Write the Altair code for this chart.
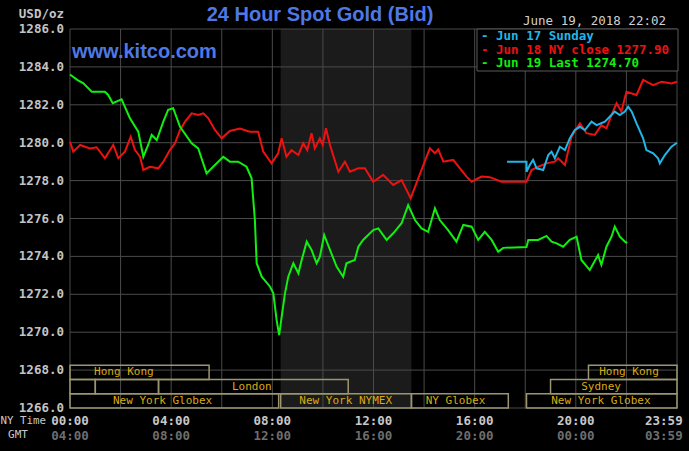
import altair as alt
import pandas as pd

# ---------------- data ----------------
green_h = [0.0, 0.3, 0.53, 0.86, 1.38, 1.51, 1.69, 2.04, 2.11, 2.37, 2.70, 2.90, 3.09, 3.23, 3.43, 3.69, 3.88, 4.08,
           4.35, 4.81, 5.07, 5.40, 5.66, 6.06, 6.32, 6.65, 6.98, 7.18, 7.31, 7.38, 7.58, 7.91, 8.04, 8.17, 8.27, 8.37,
           8.50, 8.63, 8.83, 9.03, 9.16, 9.36, 9.55, 9.75, 9.88, 10.05, 10.28, 10.54, 10.80, 10.93, 11.26, 11.40,
           11.59, 11.79, 11.99, 12.19, 12.52, 12.78, 13.11, 13.37, 13.64, 13.90, 14.16, 14.43, 14.62, 14.95, 15.28,
           15.55, 15.88, 16.14, 16.40, 16.67, 16.93, 17.13, 18.05, 18.12, 18.51, 18.84, 19.04, 19.24, 19.50, 19.76,
           20.03, 20.22, 20.55, 20.88, 21.01, 21.21, 21.41, 21.54, 21.74, 21.94, 22.03]
green_v = [1283.60, 1283.30, 1283.13, 1282.69, 1282.69, 1282.52, 1282.08, 1282.29, 1282.08, 1281.29, 1280.58, 1279.26,
           1279.88, 1280.41, 1280.14, 1281.11, 1281.73, 1281.82, 1280.84, 1279.97, 1279.70, 1278.38, 1278.73, 1279.26,
           1279.00, 1279.00, 1278.73, 1278.12, 1275.92, 1273.64, 1272.93, 1272.40, 1272.05, 1270.64, 1269.85, 1270.82,
           1272.05, 1272.93, 1273.64, 1273.11, 1273.81, 1274.78, 1274.34, 1273.64, 1273.98, 1275.13, 1274.34, 1273.46,
           1272.93, 1273.64, 1273.81, 1274.51, 1274.87, 1275.13, 1275.39, 1275.48, 1274.87, 1275.22, 1275.75, 1276.71,
           1275.92, 1275.48, 1275.30, 1276.54, 1275.92, 1275.39, 1274.78, 1275.66, 1275.57, 1274.87, 1275.30, 1274.87,
           1274.25, 1274.45, 1274.50, 1274.87, 1274.87, 1275.08, 1274.78, 1274.69, 1274.51, 1274.87, 1275.04, 1273.81,
           1273.28, 1274.07, 1273.55, 1274.51, 1275.04, 1275.57, 1275.04, 1274.78, 1274.70]

red_h = [0.0, 0.13, 0.40, 0.79, 1.05, 1.38, 1.71, 1.91, 2.17, 2.40, 2.57, 2.77, 2.90, 3.16, 3.49, 3.69, 3.95, 4.15,
         4.35, 4.55, 4.81, 5.07, 5.27, 5.47, 5.73, 6.0, 6.32, 6.72, 7.11, 7.44, 7.64, 7.97, 8.23, 8.37, 8.56, 8.76,
         9.03, 9.22, 9.38, 9.55, 9.68, 9.88, 9.99, 10.12, 10.28, 10.61, 10.87, 11.07, 11.40, 11.66, 11.99, 12.38,
         12.78, 13.11, 13.47, 13.77, 14.10, 14.23, 14.43, 14.56, 14.76, 15.15, 15.68, 15.88, 16.27, 16.60, 17.06,
         18.05, 18.25, 18.51, 18.84, 19.17, 19.30, 19.57, 19.83, 20.16, 20.42, 20.75, 21.01, 21.21, 21.41, 21.61,
         21.80, 22.0, 22.40, 22.66, 23.06, 23.39, 23.78, 24.0]
red_v = [1280.05, 1279.53, 1279.88, 1279.70, 1279.76, 1279.18, 1279.88, 1279.18, 1279.53, 1280.32, 1279.61, 1279.26,
         1278.56, 1278.73, 1278.65, 1279.00, 1279.61, 1279.97, 1280.67, 1281.11, 1281.55, 1281.46, 1281.55, 1281.29,
         1280.67, 1280.23, 1280.62, 1280.75, 1280.58, 1280.58, 1279.53, 1278.91, 1279.44, 1280.23, 1279.26, 1279.61,
         1279.35, 1279.97, 1279.61, 1280.50, 1279.70, 1280.23, 1279.88, 1280.76, 1279.88, 1278.47, 1279.00, 1278.47,
         1278.65, 1278.65, 1277.94, 1278.30, 1277.77, 1278.03, 1277.07, 1278.12, 1279.26, 1279.70, 1279.44, 1279.65,
         1279.00, 1279.09, 1278.21, 1277.94, 1278.21, 1278.18, 1277.94, 1277.94, 1278.56, 1278.73, 1278.91, 1279.00,
         1279.18, 1278.82, 1280.32, 1281.02, 1280.50, 1280.41, 1280.93, 1280.76, 1281.46, 1282.08, 1281.64, 1282.69,
         1282.52, 1283.31, 1283.04, 1283.22, 1283.13, 1283.22]

cyan_h = [17.28, 18.05, 18.05, 18.18, 18.31, 18.45, 18.71, 18.91, 19.04, 19.17, 19.37, 19.57, 19.76, 19.96, 20.16,
          20.36, 20.62, 20.82, 21.15, 21.34, 21.54, 21.74, 21.94, 22.07, 22.21, 22.40, 22.66, 22.79, 23.06, 23.25,
          23.32, 23.52, 23.78, 24.0]
cyan_v = [1279.00, 1279.00, 1278.47, 1278.82, 1279.09, 1278.65, 1278.56, 1279.35, 1279.53, 1279.18, 1279.79, 1279.61,
          1280.23, 1280.67, 1280.84, 1280.67, 1281.11, 1280.93, 1281.11, 1281.37, 1281.64, 1281.46, 1281.64, 1281.90,
          1281.64, 1281.02, 1280.23, 1279.61, 1279.44, 1279.18, 1278.91, 1279.35, 1279.79, 1280.00]

y_ticks = [1266, 1268, 1270, 1272, 1274, 1276, 1278, 1280, 1282, 1284, 1286]
x_grid = [0, 2, 4, 6, 8, 10, 12, 14, 16, 18, 20, 22, 24]
x_label_pos = [0, 4, 8, 12, 16, 20, 23.48]
ny_labels = ["00:00", "04:00", "08:00", "12:00", "16:00", "20:00", "23:59"]
gmt_labels = ["04:00", "08:00", "12:00", "16:00", "20:00", "00:00", "03:59"]

comex_start, comex_end = 8.33, 13.5

sess_start = [0.0, 20.5, 0.0, 1.0, 3.5, 19.0, 0.0, 8.33, 13.5, 18.05]
sess_end = [5.5, 24.0, 1.0, 3.5, 11.0, 24.0, 8.25, 13.5, 17.33, 24.0]
sess_row = [1, 1, 2, 2, 2, 2, 3, 3, 3, 3]
sess_lab_text = ["Hong Kong", "Hong Kong", "London", "Sydney", "New York Globex", "New York NYMEX", "NY Globex",
                 "New York Globex"]
sess_lab_x = [2.13, 22.1, 7.19, 21.0, 3.66, 10.9, 15.24, 20.99]
sess_lab_row = [1, 1, 2, 2, 3, 3, 3, 3]

legend_text = ["- Jun 17 Sunday", "- Jun 18 NY close 1277.90", "- Jun 19 Last 1274.70"]
series_names = ["Jun 17", "Jun 18", "Jun 19"]
series_colors = ["#21b6e8", "#ee1111", "#11ee11"]

# ---------------- frames ----------------
def frame(name, hs, vs):
    return pd.DataFrame({"h": hs, "v": vs, "s": name, "i": list(range(len(hs)))})

lines_df = pd.concat([frame("Jun 18", red_h, red_v),
                      frame("Jun 17", cyan_h, cyan_v),
                      frame("Jun 19", green_h, green_v)], ignore_index=True)

row_bounds = {1: (1267.5, 1268.25), 2: (1266.75, 1267.5), 3: (1266.0, 1266.75)}
sess_df = pd.DataFrame({
    "h": sess_start, "h2": sess_end,
    "v": [row_bounds[r][0] for r in sess_row],
    "v2": [row_bounds[r][1] for r in sess_row],
})
sess_lab_df = pd.DataFrame({
    "h": sess_lab_x, "t": sess_lab_text,
    "v": [sum(row_bounds[r]) / 2 for r in sess_lab_row],
})

xs = alt.Scale(domain=[0, 24], nice=False, zero=False)
ys = alt.Scale(domain=[1266, 1286], nice=False, zero=False)
X = lambda f="h": alt.X(f"{f}:Q", scale=xs, axis=None)
Y = lambda f="v": alt.Y(f"{f}:Q", scale=ys, axis=None)

MONO = "DejaVu Sans Mono"

shade = alt.Chart(pd.DataFrame({"h": [comex_start], "h2": [comex_end], "v": [1266], "v2": [1286]})).mark_rect(
    color="#1b1b1b").encode(x=X(), x2="h2:Q", y=Y(), y2="v2:Q")

vgrid = alt.Chart(pd.DataFrame({"h": x_grid, "v": 1266, "v2": 1286})).mark_rule(
    color="#4a4a4a", strokeWidth=1).encode(x=X(), y=Y(), y2="v2:Q")
hgrid = alt.Chart(pd.DataFrame({"v": y_ticks, "h": 0, "h2": 24})).mark_rule(
    color="#4a4a4a", strokeWidth=1).encode(y=Y(), x=X(), x2="h2:Q")

sess = alt.Chart(sess_df).mark_rect(fillOpacity=0, fill="#000000", stroke="#9c9670", strokeWidth=1.5).encode(
    x=X(), x2="h2:Q", y=Y(), y2="v2:Q")
sess_txt = alt.Chart(sess_lab_df).mark_text(font=MONO, fontSize=11, color="#d9aa14", align="center",
                                            baseline="middle").encode(x=X(), y=Y(), text="t:N")

lines = alt.Chart(lines_df).mark_line(strokeWidth=2, interpolate="linear").encode(
    x=X(), y=Y(),
    color=alt.Color("s:N", scale=alt.Scale(domain=series_names, range=series_colors), legend=None),
    order="i:Q", detail="s:N")

ylab = alt.Chart(pd.DataFrame({"v": y_ticks, "t": [f"{t:.1f}" for t in y_ticks]})).mark_text(
    font=MONO, fontSize=12.5, fontWeight="bold", color="#c4c4c4", align="right", baseline="middle").encode(
    x=alt.value(-6), y=Y(), text="t:N")

xlab = alt.Chart(pd.DataFrame({"h": x_label_pos, "t": ny_labels})).mark_text(
    font=MONO, fontSize=12.5, fontWeight="bold", color="#c8c8c8", align="center", baseline="middle").encode(
    x=X(), y=alt.value(392), text="t:N")
glab = alt.Chart(pd.DataFrame({"h": x_label_pos, "t": gmt_labels})).mark_text(
    font=MONO, fontSize=12.5, fontWeight="bold", color="#6e6e6e", align="center", baseline="middle").encode(
    x=X(), y=alt.value(407), text="t:N")

nytime = alt.Chart(pd.DataFrame({"t": ["NY Time"]})).mark_text(
    font=MONO, fontSize=10.8, color="#c8c8c8", align="right", baseline="middle").encode(
    x=alt.value(-24), y=alt.value(392), text="t:N")
gmt = alt.Chart(pd.DataFrame({"t": ["GMT"]})).mark_text(
    font=MONO, fontSize=11, color="#c8c8c8", align="center", baseline="middle").encode(
    x=alt.value(-52), y=alt.value(406), text="t:N")

usd = alt.Chart(pd.DataFrame({"t": ["USD/oz"]})).mark_text(
    font=MONO, fontSize=12.5, fontWeight="bold", color="#c4c4c4", align="right", baseline="middle").encode(
    x=alt.value(-6), y=alt.value(-15), text="t:N")

title = alt.Chart(pd.DataFrame({"t": ["24 Hour Spot Gold (Bid)"]})).mark_text(
    font="Liberation Sans", fontSize=20, fontWeight="bold", color="#4f78e4", align="center",
    baseline="middle").encode(x=alt.value(250), y=alt.value(-14), text="t:N")

kitco = alt.Chart(pd.DataFrame({"t": ["www.kitco.com"]})).mark_text(
    font="Liberation Sans", fontSize=20, fontWeight="bold", color="#4f78e4", align="left",
    baseline="middle").encode(x=alt.value(2), y=alt.value(23), text="t:N")

stamp = alt.Chart(pd.DataFrame({"t": ["June 19, 2018 22:02"]})).mark_text(
    font=MONO, fontSize=12.5, color="#d0d0d0", align="right", baseline="middle").encode(
    x=alt.value(596), y=alt.value(-8), text="t:N")

leg_box = alt.Chart(pd.DataFrame({"a": [0]})).mark_rect(fill="#000000", stroke="#5a5a5a", strokeWidth=1).encode(
    x=alt.value(407), x2=alt.value(608), y=alt.value(0), y2=alt.value(42))
leg_txt = alt.Chart(pd.DataFrame({"t": legend_text, "s": series_names, "k": [0, 1, 2]})).mark_text(
    font=MONO, fontSize=12.5, fontWeight="bold", align="left", baseline="middle", dx=0).encode(
    x=alt.value(411),
    y=alt.Y("k:Q", scale=alt.Scale(domain=[0, 2], range=[7, 34]), axis=None),
    text="t:N",
    color=alt.Color("s:N", scale=alt.Scale(domain=series_names, range=series_colors), legend=None))

chart = alt.layer(
    shade, vgrid, hgrid, sess, sess_txt, lines, leg_box, leg_txt,
    ylab, xlab, glab, nytime, gmt, usd, title, kitco, stamp
).resolve_scale(y="independent").properties(
    width=607, height=379,
    autosize=alt.AutoSizeParams(type="none"),
    padding={"left": 70, "top": 29, "right": 12, "bottom": 43},
    background="#000000",
).configure_view(stroke=None)

chart.save("out.html", embed_options={"renderer": "svg", "actions": False})
